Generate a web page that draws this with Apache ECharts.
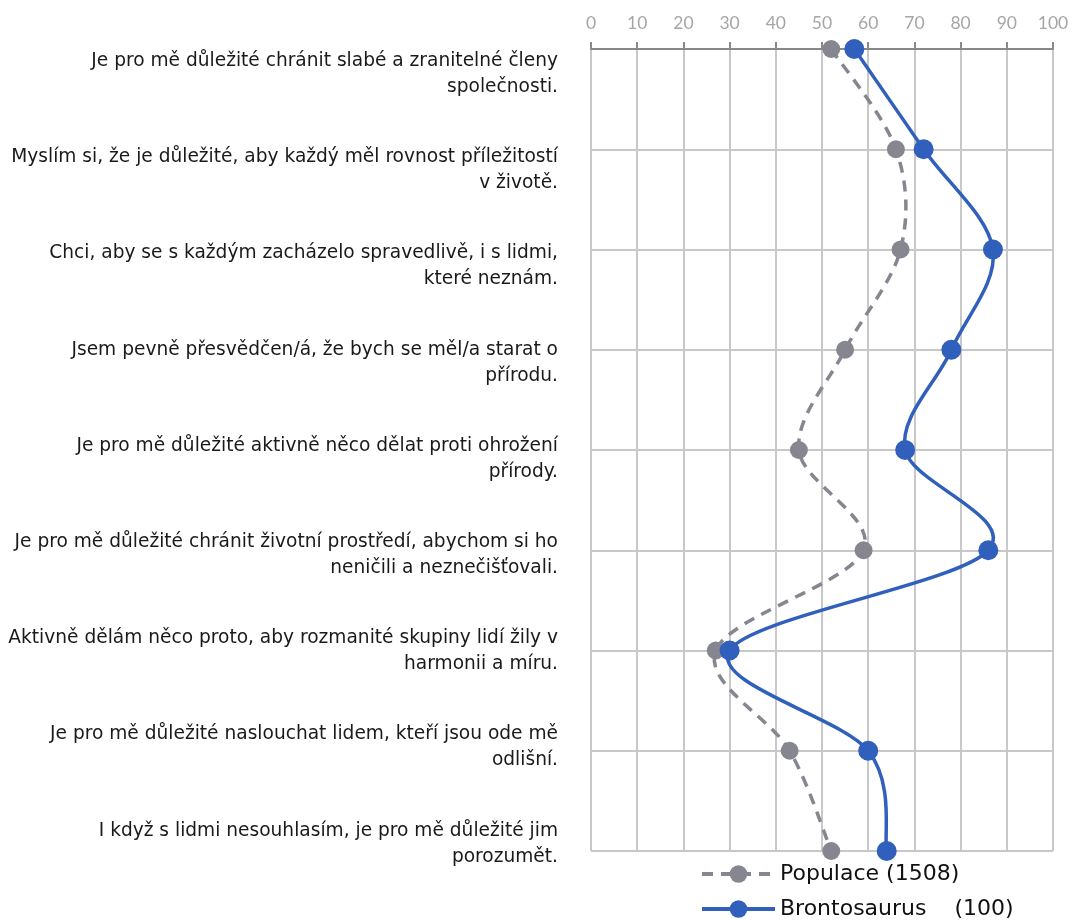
<!DOCTYPE html>
<html>
<head>
<meta charset="utf-8">
<script src="https://cdn.jsdelivr.net/npm/echarts@6/dist/echarts.min.js"></script>
<style>
html,body{margin:0;padding:0;background:#fff;}
#chart{width:1075px;height:920px;}
</style>
</head>
<body>
<div id="chart"></div>
<script>
const categories = [
  "Je pro mě důležité chránit slabé a zranitelné členy\nspolečnosti.",
  "Myslím si, že je důležité, aby každý měl rovnost příležitostí\nv životě.",
  "Chci, aby se s každým zacházelo spravedlivě, i s lidmi,\nkteré neznám.",
  "Jsem pevně přesvědčen/á, že bych se měl/a starat o\npřírodu.",
  "Je pro mě důležité aktivně něco dělat proti ohrožení\npřírody.",
  "Je pro mě důležité chránit životní prostředí, abychom si ho\nneničili a neznečišťovali.",
  "Aktivně dělám něco proto, aby rozmanité skupiny lidí žily v\nharmonii a míru.",
  "Je pro mě důležité naslouchat lidem, kteří jsou ode mě\nodlišní.",
  "I když s lidmi nesouhlasím, je pro mě důležité jim\nporozumět."
];
const populace = [52, 66, 67, 55, 45, 59, 27, 43, 52];
const brontosaurus = [57, 72, 87, 78, 68, 86, 30, 60, 64];
const seriesNames = ["Populace (1508)", "Brontosaurus    (100)"];
const xTicks = { min: 0, max: 100, interval: 10 };

const FONT = "DejaVu Sans";
const TICKFONT = "Lato";
const GRAY = '#868690';
const BLUE = '#3060bb';
const chart = echarts.init(document.getElementById('chart'), null, {renderer: 'canvas'});
const gridLine = '#c8c8c8';
const legendCommon = {
  orient: 'horizontal', left: 700, padding: 0,
  itemWidth: 73, itemHeight: 22, itemGap: 10,
  lineStyle: { opacity: 1, width: 4 },
  textStyle: { color: '#111', fontSize: 22, fontFamily: FONT }
};

// Smoothed curve (Catmull-Rom style) through the points, positioned via the chart's own axes.
function curveSeries(values, color, width, dash, z) {
  return {
    type: 'custom', xAxisIndex: 0, yAxisIndex: 0, z: z, silent: true,
    data: [0],
    renderItem: function (params, api) {
      const pts = values.map(function (v, i) { return api.coord([v, i]); });
      let d = 'M' + pts[0][0] + ',' + pts[0][1];
      for (let i = 0; i < pts.length - 1; i++) {
        const p0 = pts[Math.max(i - 1, 0)], p1 = pts[i], p2 = pts[i + 1], p3 = pts[Math.min(i + 2, pts.length - 1)];
        const c1x = p1[0] + (p2[0] - p0[0]) / 6, c1y = p1[1] + (p2[1] - p0[1]) / 6;
        const c2x = p2[0] - (p3[0] - p1[0]) / 6, c2y = p2[1] - (p3[1] - p1[1]) / 6;
        d += ' C' + c1x + ',' + c1y + ' ' + c2x + ',' + c2y + ' ' + p2[0] + ',' + p2[1];
      }
      return {
        type: 'path', shape: { pathData: d },
        style: { fill: 'none', stroke: color, lineWidth: width, lineDash: dash, lineCap: 'butt' }
      };
    }
  };
}

chart.setOption({
  backgroundColor: '#fff',
  animation: false,
  textStyle: { fontFamily: FONT },
  grid: [
    { left: 591, right: 22, top: 49, bottom: 69 },
    { left: 591, right: 22, top: 26, height: 866 }
  ],
  xAxis: [
    {
      type: 'value', gridIndex: 0, position: 'top',
      min: xTicks.min, max: xTicks.max, interval: xTicks.interval,
      axisLine: { show: true, lineStyle: { color: '#888888', width: 2 } },
      axisTick: { show: true, inside: false, length: 7, lineStyle: { color: '#888888', width: 2 } },
      axisLabel: { color: '#a6a6a6', fontSize: 17.5, fontFamily: TICKFONT, margin: 17 },
      splitLine: { show: true, lineStyle: { color: gridLine, width: 2 } }
    },
    {
      type: 'value', gridIndex: 1, min: 0, max: 100, show: false
    }
  ],
  yAxis: [
    {
      type: 'category', gridIndex: 0, data: categories, inverse: true, boundaryGap: false,
      axisLine: { show: false }, axisTick: { show: false }, axisLabel: { show: false },
      splitLine: { show: true, lineStyle: { color: gridLine, width: 2 } }
    },
    {
      type: 'category', gridIndex: 1, data: categories, inverse: true, boundaryGap: true,
      axisLine: { show: false }, axisTick: { show: false }, splitLine: { show: false },
      axisLabel: { show: true, color: '#1a1a1a', fontSize: 18.6, fontFamily: FONT, lineHeight: 26, align: 'right', margin: 33 }
    }
  ],
  legend: [
    Object.assign({}, legendCommon, { top: 863, data: [seriesNames[0]] }),
    Object.assign({}, legendCommon, { top: 898, data: [seriesNames[1]] })
  ],
  series: [
    curveSeries(populace, GRAY, 3.5, [11, 8], 2),
    {
      name: seriesNames[0], type: 'line', xAxisIndex: 0, yAxisIndex: 0,
      data: populace, smooth: false,
      symbol: 'circle', symbolSize: 18,
      itemStyle: { color: GRAY },
      lineStyle: { color: GRAY, width: 3.5, type: [11, 8], opacity: 0 },
      z: 3
    },
    curveSeries(brontosaurus, BLUE, 3.5, null, 4),
    {
      name: seriesNames[1], type: 'line', xAxisIndex: 0, yAxisIndex: 0,
      data: brontosaurus, smooth: false,
      symbol: 'circle', symbolSize: 20,
      itemStyle: { color: BLUE },
      lineStyle: { color: BLUE, width: 3.5, opacity: 0 },
      z: 5
    }
  ]
});
</script>
</body>
</html>
